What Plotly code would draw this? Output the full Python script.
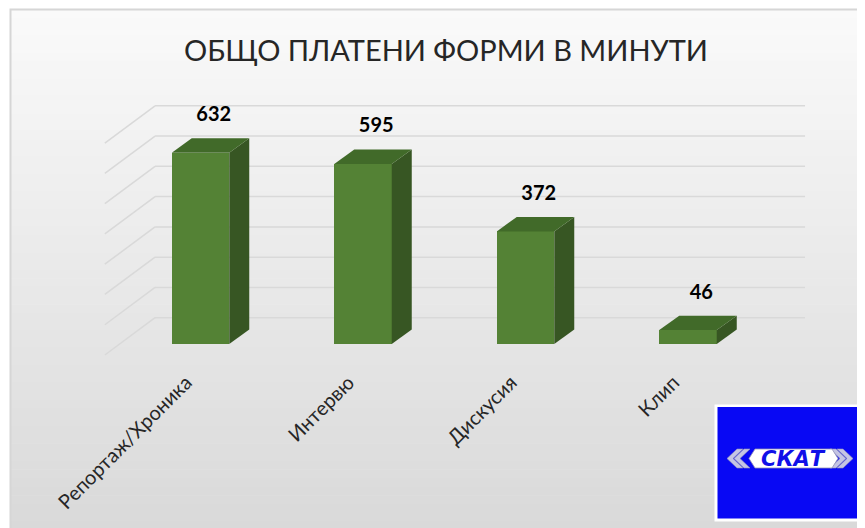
import plotly.graph_objects as go

# ---------------- data ----------------
categories = ["Репортаж/Хроника", "Интервю", "Дискусия", "Клип"]
minutes = [632, 595, 372, 46]
grid_values = [0, 100, 200, 300, 400, 500, 600, 700]
title_text = "ОБЩО ПЛАТЕНИ ФОРМИ В МИНУТИ"
logo_text = "СКАТ"

# ---------------- layout constants ----------------
# the page body has an 8px default margin; design in page pixels and shift
OFF = 8
W, H = 865, 528 - OFF
PLOT_L, PLOT_T, PLOT_R, PLOT_B = 10, 9, 865, 362   # plot area in page pixels
L, T = PLOT_L - OFF, PLOT_T - OFF
R, B = W - (PLOT_R - OFF), H - (PLOT_B - OFF)
PW, PH = W - L - R, H - T - B

PX_PER_CAT = 162.5      # horizontal pixels per category
PX_PER_UNIT = 0.3027    # vertical pixels per minute
X0_PX, Y0_PX = 200.5, 344.0   # page pixel of category 0 / value 0 on the bar front plane

x_range = [(PLOT_L - X0_PX) / PX_PER_CAT, (PLOT_R - X0_PX) / PX_PER_CAT]
y_range = [(Y0_PX - PLOT_B) / PX_PER_UNIT, (Y0_PX - PLOT_T) / PX_PER_UNIT]

BAR_W = 57.5 / PX_PER_CAT
DXB, DYB = 20 / PX_PER_CAT, 14.4 / PX_PER_UNIT        # bar depth
DXW, DYW = 35.8 / PX_PER_CAT, 26.3 / PX_PER_UNIT      # back wall offset
DXF, DYF = -14.4 / PX_PER_CAT, -11.0 / PX_PER_UNIT    # floor front offset
LABEL_OFF = 22 / PX_PER_UNIT

FRONT = "#548235"
SIDE = "#375623"
TOP = "#416a29"
GRID = "#d9d9d9"
FONT = "Lato, 'Open Sans', sans-serif"


def px(x):
    """page pixel x -> paper fraction"""
    return (x - PLOT_L) / PW


def py(y):
    """page pixel y -> paper fraction"""
    return 1 - (y - PLOT_T) / PH


n = len(categories)
xs = list(range(n))
x_left, x_right = -0.5, n - 0.5

shapes = []
# background gradient of chart area
N_BANDS = 60
y_top, y_bot = 9, 530
for k in range(N_BANDS):
    y1 = y_top + (y_bot - y_top) * k / N_BANDS
    y2 = y_top + (y_bot - y_top) * (k + 1) / N_BANDS + 0.6
    g = round(250 - (250 - 217) * (k + 0.5) / N_BANDS)
    shapes.append(dict(type="rect", xref="paper", yref="paper", layer="below",
                       x0=px(10), x1=px(880), y0=py(y1), y1=py(y2),
                       fillcolor=f"rgb({g},{g},{g})", line=dict(width=0)))
# chart border
shapes.append(dict(type="rect", xref="paper", yref="paper", layer="below",
                   x0=px(10.5), x1=px(890), y0=py(9.5), y1=py(540),
                   fillcolor="rgba(0,0,0,0)", line=dict(color="#d6d6d6", width=2)))

# gridlines: side wall diagonals + back wall horizontals
for v in grid_values:
    shapes.append(dict(type="line", xref="x", yref="y", layer="below",
                       x0=x_left + DXF, y0=v + DYF, x1=x_left + DXW, y1=v + DYW,
                       line=dict(color=GRID, width=1.5)))
    shapes.append(dict(type="line", xref="x", yref="y", layer="below",
                       x0=x_left + DXW, y0=v + DYW, x1=x_right + DXW, y1=v + DYW,
                       line=dict(color=GRID, width=1.5)))

# logo
shapes.append(dict(type="rect", xref="paper", yref="paper", layer="above",
                   x0=px(714.5), x1=px(880), y0=py(404.5), y1=py(521.5),
                   fillcolor="white", line=dict(width=0)))
shapes.append(dict(type="rect", xref="paper", yref="paper", layer="above",
                   x0=px(717.5), x1=px(862.5), y0=py(407), y1=py(518.5),
                   fillcolor="#0808f4", line=dict(width=0)))


def path(points):
    return "M " + " L ".join(f"{px(a)},{py(b)}" for a, b in points) + " Z"


# chevrons
for off in (0, 7):
    shapes.append(dict(type="path", xref="paper", yref="paper", layer="above",
                       path=path([(744 - off, 449), (734 - off, 458.5), (744 - off, 468),
                                  (750 - off, 468), (740 - off, 458.5), (750 - off, 449)]),
                       fillcolor="#c4c4e4", line=dict(color="#9090b8", width=0.6)))
    shapes.append(dict(type="path", xref="paper", yref="paper", layer="above",
                       path=path([(836 + off, 449), (846 + off, 458.5), (836 + off, 468),
                                  (830 + off, 468), (840 + off, 458.5), (830 + off, 449)]),
                       fillcolor="#c4c4e4", line=dict(color="#9090b8", width=0.6)))
shapes.append(dict(type="path", xref="paper", yref="paper", layer="above",
                   path=path([(755, 449), (832, 449), (838, 458.5), (832, 468),
                              (755, 468), (749, 458.5)]),
                   fillcolor="white", line=dict(color="#9090b8", width=0.8)))

fig = go.Figure()

# bar front faces
fig.add_trace(go.Bar(x=xs, y=minutes, width=BAR_W, marker=dict(color=FRONT, line=dict(width=0)),
                     hoverinfo="skip", showlegend=False))

# side and top faces
for c, v in zip(xs, minutes):
    r = c + BAR_W / 2
    l = c - BAR_W / 2
    fig.add_trace(go.Scatter(x=[r, r + DXB, r + DXB, r, r], y=[0, DYB, v + DYB, v, 0],
                             fill="toself", fillcolor=SIDE, mode="lines",
                             line=dict(width=0, color=SIDE), hoverinfo="skip", showlegend=False))
    fig.add_trace(go.Scatter(x=[l, r, r + DXB, l + DXB, l], y=[v, v, v + DYB, v + DYB, v],
                             fill="toself", fillcolor=TOP, mode="lines",
                             line=dict(width=0, color=TOP), hoverinfo="skip", showlegend=False))

# data labels
fig.add_trace(go.Scatter(x=[c + DXB / 2 + 0.02 for c in xs], y=[v + DYB + LABEL_OFF for v in minutes],
                         mode="text", text=[str(v) for v in minutes], textposition="middle center",
                         textfont=dict(family=FONT, size=20, color="#000000", weight="bold"),
                         cliponaxis=False, hoverinfo="skip", showlegend=False))

annotations = [
    dict(xref="paper", yref="paper", x=px(446), y=py(49), text=title_text, showarrow=False,
         xanchor="center", yanchor="middle", font=dict(family=FONT, size=29, color="#262626")),
    dict(xref="paper", yref="paper", x=px(793), y=py(459), text=f"<b><i>{logo_text}</i></b>",
         showarrow=False, xanchor="center", yanchor="middle",
         font=dict(family="'DejaVu Sans', sans-serif", size=21, color="#1010e8")),
]

fig.update_layout(
    width=W, height=H,
    margin=dict(l=L, r=R, t=T, b=B, autoexpand=False),
    paper_bgcolor="white", plot_bgcolor="rgba(0,0,0,0)",
    shapes=shapes, annotations=annotations,
    showlegend=False, bargap=0,
    xaxis=dict(range=x_range, tickvals=[c + DXF for c in xs], ticktext=categories,
               tickangle=-45, tickfont=dict(family=FONT, size=20, color="#262626"),
               ticklabelstandoff=4,
               showgrid=False, zeroline=False, showline=False, ticks="", fixedrange=True),
    yaxis=dict(range=y_range, showticklabels=False, showgrid=False, zeroline=False,
               showline=False, ticks="", fixedrange=True),
)

fig.write_html("out.html")
